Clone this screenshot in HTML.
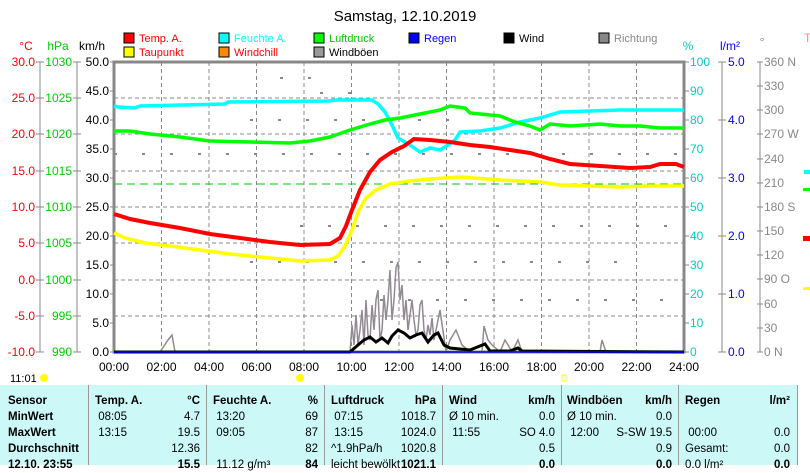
<!DOCTYPE html>
<html><head><meta charset="utf-8"><style>
body{margin:0;width:810px;height:465px;overflow:hidden;background:#fff;font-family:"Liberation Sans",sans-serif;}
svg{position:absolute;left:0;top:0}
.t{position:absolute;left:0;top:385px;width:798px;height:80px;background:#ccf8f8;font-size:11.5px;}
.c{position:absolute;top:0;height:80px;border-left:1px solid #999;}
.r{position:absolute;white-space:nowrap}
</style></head><body>
<svg width="810" height="385" font-family="Liberation Sans, sans-serif" font-size="12">
<text x="405" y="21" font-size="15" text-anchor="middle">Samstag, 12.10.2019</text>
<g font-size="11">
<rect x="124" y="33" width="10" height="10" fill="#f00" stroke="#000"/><text x="139" y="42" fill="#f00">Temp. A.</text>
<rect x="124" y="47" width="10" height="10" fill="#ff0" stroke="#000"/><text x="139" y="56" fill="#f00">Taupunkt</text>
<rect x="219" y="33" width="10" height="10" fill="#0ff" stroke="#000"/><text x="234" y="42" fill="#0ff">Feuchte A.</text>
<rect x="219" y="47" width="10" height="10" fill="#f80" stroke="#000"/><text x="234" y="56" fill="#f00">Windchill</text>
<rect x="314" y="33" width="10" height="10" fill="#0f0" stroke="#000"/><text x="329" y="42" fill="#0c0">Luftdruck</text>
<rect x="314" y="47" width="10" height="10" fill="#999" stroke="#000"/><text x="329" y="56">Windböen</text>
<rect x="409" y="33" width="10" height="10" fill="#00f" stroke="#000"/><text x="424" y="42" fill="#00f">Regen</text>
<rect x="504" y="33" width="10" height="10" fill="#000" stroke="#000"/><text x="519" y="42">Wind</text>
<rect x="599" y="33" width="10" height="10" fill="#888" stroke="#000"/><text x="614" y="42" fill="#888">Richtung</text>
</g>
<text x="26" y="50" fill="#f00" text-anchor="middle">°C</text>
<text x="58" y="50" fill="#0c0" text-anchor="middle">hPa</text>
<text x="92" y="50" text-anchor="middle">km/h</text>
<text x="688" y="50" fill="#0cc" text-anchor="middle">%</text>
<text x="730" y="50" fill="#00f" text-anchor="middle">l/m²</text>
<text x="762" y="46" fill="#888" text-anchor="middle">°</text>
<text x="804" y="42" fill="#f88">T</text>
<g stroke="#888" stroke-dasharray="4,3">
<path d="M114 98H684M114 134H684M114 171H684M114 207H684M114 243H684M114 280H684M114 316H684"/>
<path d="M161.5 62V352M209 62V352M256.5 62V352M304 62V352M351.5 62V352M399 62V352M446.5 62V352M494 62V352M541.5 62V352M589 62V352M636.5 62V352"/>
</g>
<g stroke="#888" stroke-width="2" stroke-dasharray="3,25">
<path d="M280 78H330M320 93H370M250 120H460M114 154H684M300 226H684M250 262H620M380 300H684"/>
</g>
<rect x="114" y="62" width="570" height="290" fill="none" stroke="#888" stroke-width="3"/>
<g stroke="#888"><path d="M40 62V352M77 62V352"/>
<path d="M36 62h8M36 98h8M36 134h8M36 171h8M36 207h8M36 243h8M36 280h8M36 316h8M36 352h8"/>
<path d="M73 62h8M73 98h8M73 134h8M73 171h8M73 207h8M73 243h8M73 280h8M73 316h8M73 352h8"/>
<path d="M110 62h4M110 91h4M110 120h4M110 149h4M110 178h4M110 207h4M110 236h4M110 265h4M110 294h4M110 323h4M110 352h4"/>
<path d="M684 62h5M684 91h5M684 120h5M684 149h5M684 178h5M684 207h5M684 236h5M684 265h5M684 294h5M684 323h5M684 352h5"/>
<path d="M722 62V352M718 62h8M718 120h8M718 178h8M718 236h8M718 294h8M718 352h8"/>
<path d="M760 62V352M757 62h6M757 86h6M757 110h6M757 134h6M757 159h6M757 183h6M757 207h6M757 231h6M757 255h6M757 279h6M757 304h6M757 328h6M757 352h6"/>
</g>
<g text-anchor="end" fill="#f00">
<text x="35" y="66">30.0</text><text x="35" y="102">25.0</text><text x="35" y="138">20.0</text><text x="35" y="175">15.0</text><text x="35" y="211">10.0</text><text x="35" y="247">5.0</text><text x="35" y="284">0.0</text><text x="35" y="320">-5.0</text><text x="35" y="356">-10.0</text></g>
<g text-anchor="end" fill="#0c0">
<text x="72" y="66">1030</text><text x="72" y="102">1025</text><text x="72" y="138">1020</text><text x="72" y="175">1015</text><text x="72" y="211">1010</text><text x="72" y="247">1005</text><text x="72" y="284">1000</text><text x="72" y="320">995</text><text x="72" y="356">990</text></g>
<g text-anchor="end">
<text x="109" y="66">50.0</text><text x="109" y="95">45.0</text><text x="109" y="124">40.0</text><text x="109" y="153">35.0</text><text x="109" y="182">30.0</text><text x="109" y="211">25.0</text><text x="109" y="240">20.0</text><text x="109" y="269">15.0</text><text x="109" y="298">10.0</text><text x="109" y="327">5.0</text><text x="109" y="356">0.0</text></g>
<g fill="#0cc">
<text x="690" y="66">100</text><text x="690" y="95">90</text><text x="690" y="124">80</text><text x="690" y="153">70</text><text x="690" y="182">60</text><text x="690" y="211">50</text><text x="690" y="240">40</text><text x="690" y="269">30</text><text x="690" y="298">20</text><text x="690" y="327">10</text><text x="690" y="356">0</text></g>
<g fill="#00f">
<text x="728" y="66">5.0</text><text x="728" y="124">4.0</text><text x="728" y="182">3.0</text><text x="728" y="240">2.0</text><text x="728" y="298">1.0</text><text x="728" y="356">0.0</text></g>
<g fill="#888">
<text x="764" y="66">360 N</text><text x="764" y="90">330</text><text x="764" y="114">300</text><text x="764" y="138">270 W</text><text x="764" y="163">240</text><text x="764" y="187">210</text><text x="764" y="211">180 S</text><text x="764" y="235">150</text><text x="764" y="259">120</text><text x="764" y="283">90  O</text><text x="764" y="308">60</text><text x="764" y="332">30</text><text x="764" y="356">0    N</text></g>
<g text-anchor="middle">
<text x="114" y="371">00:00</text><text x="161.5" y="371">02:00</text><text x="209" y="371">04:00</text><text x="256.5" y="371">06:00</text><text x="304" y="371">08:00</text><text x="351.5" y="371">10:00</text><text x="399" y="371">12:00</text><text x="446.5" y="371">14:00</text><text x="494" y="371">16:00</text><text x="541.5" y="371">18:00</text><text x="589" y="371">20:00</text><text x="636.5" y="371">22:00</text><text x="684" y="371">24:00</text></g>
<path d="M114 184H684" stroke="#0c0" stroke-dasharray="8,5"/>
<polyline fill="none" stroke="#918a92" stroke-width="1.5" points="160,352 168,340 172,335 175,352 350,352 352,325 354,345 356,315 358,345 360,330 362,310 364,345 366,300 368,335 370,340 372,305 374,330 376,300 378,290 380,340 382,330 384,295 386,320 388,300 390,270 392,320 394,300 396,268 398,262 400,300 402,285 404,320 406,300 408,330 410,315 412,300 414,320 416,335 418,330 420,305 422,300 424,330 426,340 428,325 430,335 432,318 434,340 436,330 440,310 446,352 450,340 456,330 462,345 470,352 482,352 484,326 488,340 492,345 500,352 505,340 508,345 512,352 518,340 522,352 600,352 602,340 606,352"/>
<polyline fill="none" stroke="#000" stroke-width="3" points="114,352 350,352 358,345 364,340 370,337 376,342 382,338 388,343 392,336 398,330 404,333 410,338 416,335 422,333 428,342 434,335 438,333 444,345 450,348 470,350 485,344 490,351 510,351 518,348 522,351 684,352"/>
<path d="M114 352H684" stroke="#00f" stroke-width="1.5"/>
<polyline fill="none" stroke="#0ff" stroke-width="3.5" points="114,106 118,107 135,108 140,106 225,104 228,102 330,101 335,100 372,100 378,104 385,112 392,125 398,138 410,145 420,152 430,148 440,150 448,145 455,140 460,132 480,131 500,128 520,122 540,118 560,112 620,110 684,110"/>
<polyline fill="none" stroke="#0f0" stroke-width="3.5" points="114,131 130,131 150,134 180,137 210,141 250,142 290,143 310,141 330,137 350,130 370,124 385,120 400,118 420,114 440,110 450,106 465,108 470,113 500,116 515,122 530,126 540,130 550,124 570,126 600,124 620,126 640,126 660,128 684,128"/>
<polyline fill="none" stroke="#ff0" stroke-width="3.5" points="114,233 125,238 145,243 170,246 200,250 230,254 260,257 300,261 330,260 338,256 345,246 352,230 358,212 366,198 376,190 390,184 410,181 430,179 460,177 500,180 540,182 560,185 590,186 620,187 650,186 684,186"/>
<polyline fill="none" stroke="#f00" stroke-width="4" points="114,214 130,219 150,223 180,228 210,234 240,238 270,242 300,245 330,244 340,238 346,226 352,210 360,190 370,172 380,160 392,152 404,146 414,139 430,140 450,142 470,145 490,147 510,150 530,153 550,159 570,164 600,166 630,168 650,167 660,164 676,164 684,167"/>
<text x="10" y="382" font-size="11">11:01</text>
<circle cx="44" cy="378" r="4" fill="#ff0"/>
<circle cx="300" cy="378" r="4" fill="#ff0"/>
<rect x="562" y="375" width="4" height="6" fill="none" stroke="#ff0"/>
<rect x="804" y="170" width="6" height="4" fill="#0ff"/><rect x="803" y="236" width="7" height="5" fill="#f00"/><rect x="803" y="287" width="7" height="3" fill="#ff0"/><rect x="803" y="188" width="7" height="3" fill="#0f0"/>
</svg>
<div class="t">
<div class="c" style="left:88px"></div><div class="c" style="left:206px"></div><div class="c" style="left:324px"></div><div class="c" style="left:442px"></div><div class="c" style="left:561px"></div><div class="c" style="left:678px"></div><div class="c" style="left:797px"></div>
<div class="r" style="left:8px;top:8px;font-weight:bold;line-height:16px">Sensor<br>MinWert<br>MaxWert<br>Durchschnitt<br>12.10. 23:55</div>
<div class="r" style="left:95px;top:8px;line-height:16px"><b>Temp. A.</b><br>&nbsp;08:05<br>&nbsp;13:15</div>
<div class="r" style="left:150px;top:8px;width:50px;text-align:right;line-height:16px"><b>°C</b><br>4.7<br>19.5<br>12.36<br><b>15.5</b></div>
<div class="r" style="left:213px;top:8px;line-height:16px"><b>Feuchte A.</b><br>&nbsp;13:20<br>&nbsp;09:05<br><br>&nbsp;11.12 g/m³</div>
<div class="r" style="left:270px;top:8px;width:48px;text-align:right;line-height:16px"><b>%</b><br>69<br>87<br>82<br><b>84</b></div>
<div class="r" style="left:331px;top:8px;line-height:16px"><b>Luftdruck</b><br>&nbsp;07:15<br>&nbsp;13:15<br>^1.9hPa/h<br>leicht bewölkt</div>
<div class="r" style="left:390px;top:8px;width:46px;text-align:right;line-height:16px"><b>hPa</b><br>1018.7<br>1024.0<br>1020.8<br><b>1021.1</b></div>
<div class="r" style="left:449px;top:8px;line-height:16px"><b>Wind</b><br>Ø 10 min.<br>&nbsp;11:55</div>
<div class="r" style="left:500px;top:8px;width:55px;text-align:right;line-height:16px"><b>km/h</b><br>0.0<br>SO 4.0<br>0.5<br><b>0.0</b></div>
<div class="r" style="left:567px;top:8px;line-height:16px"><b>Windböen</b><br>Ø 10 min.<br>&nbsp;12:00</div>
<div class="r" style="left:600px;top:8px;width:72px;text-align:right;line-height:16px"><b>km/h</b><br>0.0<br>S-SW 19.5<br>0.9<br><b>0.0</b></div>
<div class="r" style="left:685px;top:8px;line-height:16px"><b>Regen</b><br><br>&nbsp;00:00<br>Gesamt:<br>0.0 l/m²</div>
<div class="r" style="left:740px;top:8px;width:50px;text-align:right;line-height:16px"><b>l/m²</b><br><br>0.0<br>0.0<br><b>0.0</b></div>
</div>
</body></html>
